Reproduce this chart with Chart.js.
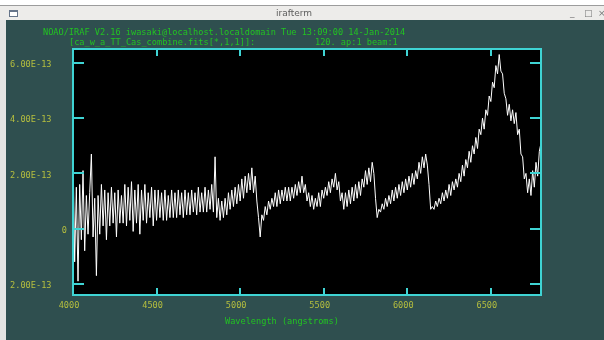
<!DOCTYPE html>
<html>
<head>
<meta charset="utf-8">
<title>irafterm</title>
<script src="https://cdn.jsdelivr.net/npm/chart.js@4.4.1/dist/chart.umd.min.js"></script>
<style>
  html, body { margin: 0; padding: 0; background: #fff; }
  #win { position: relative; width: 604px; height: 340px; overflow: hidden; background: #2f4f4f; }
  #plot { position: absolute; left: 0; top: 0; }
  .strip { position: absolute; left: 0; top: 0; width: 604px; height: 5px; background: #fff; }
  .side { position: absolute; left: 0; top: 5px; width: 6px; height: 335px; background: #e4e4e2; }
  .bar { position: absolute; left: 0; top: 5px; width: 604px; height: 15px; background: #edecea;
         border-top: 1px solid #9c9c9c; box-sizing: border-box; font: 9px "DejaVu Sans", sans-serif; color: #5c5c5c; }
  .bar .name { position: absolute; left: 254px; width: 80px; top: 1px; text-align: center; line-height: 12px; }
  .bar .icon { position: absolute; left: 9px; top: 4px; width: 7px; height: 4px; border: 1px solid #66758a; border-top-width: 2px; background: #fff; }
  .bar .btn { position: absolute; top: 1px; line-height: 12px; color: #777; }
  .txt { position: absolute; font: 8.6px "DejaVu Sans Mono", monospace; line-height: 10px; white-space: pre; color: #22c322; }
</style>
</head>
<body>
<div id="win">
  <canvas id="plot" width="604" height="340"></canvas>
  <div class="strip"></div>
  <div class="side"></div>
  <div class="bar">
    <div class="icon"></div>
    <div class="name">irafterm</div>
    <span class="btn" style="left:570px">_</span>
    <span class="btn" style="left:584px">&#9633;</span>
    <span class="btn" style="left:598px">&#215;</span>
  </div>
  <div class="txt" style="left:43px; top:27px">NOAO/IRAF V2.16 iwasaki@localhost.localdomain Tue 13:09:00 14-Jan-2014</div>
  <div class="txt" style="left:69px; top:37px">[ca_w_a_TT_Cas_combine.fits[*,1,1]]:</div>
  <div class="txt" style="left:315px; top:37px">120. ap:1 beam:1</div>
  <div class="txt" style="left:225px; top:316px">Wavelength (angstroms)</div>
</div>
<script>
// spectrum sampling: first wavelength and step, in angstroms
const waveStart = 4000;
const waveStep = 10;

// flux in units of 1E-13, one value per 10 A from 4000 to 6800
const flux = [
    2.8, -1.2, 1.5, -1.9, 1.6, -0.4, 2.1, -0.8, 1.2, -0.2,
    1.3, 2.7, -0.3, 1.1, -1.7, 1.2, -0.2, 1.6, 0.1, 1.4,
    -0.4, 1.3, 0.1, 1.5, 0.2, 1.3, -0.3, 1.4, 0.2, 1.2,
    0.2, 1.6, 0.1, 1.5, 0.3, 1.7, -0.1, 1.4, 0.2, 1.6,
    -0.2, 1.4, 0.3, 1.6, 0.2, 1.3, 0.4, 1.5, 0.1, 1.4,
    0.3, 1.4, 0.4, 1.3, 0.3, 1.4, 0.3, 1.2, 0.4, 1.4,
    0.4, 1.3, 0.4, 1.4, 0.5, 1.3, 0.4, 1.4, 0.5, 1.3,
    0.5, 1.4, 0.6, 1.3, 0.5, 1.5, 0.6, 1.3, 0.6, 1.5,
    0.6, 1.4, 0.7, 1.6, 0.6, 2.6, 0.4, 1.1, 0.3, 1.0,
    0.4, 1.1, 0.5, 1.3, 0.7, 1.4, 0.8, 1.5, 0.9, 1.6,
    1.0, 1.8, 1.1, 1.9, 1.3, 2.0, 1.4, 2.2, 1.3, 1.9,
    1.0, 0.4, -0.3, 0.5, 0.3, 0.8, 0.5, 1.0, 0.7, 1.1,
    0.8, 1.3, 0.8, 1.4, 0.9, 1.4, 1.0, 1.5, 1.0, 1.5,
    1.0, 1.5, 1.1, 1.6, 1.2, 1.7, 1.3, 1.9, 1.3, 1.6,
    1.0, 1.3, 0.8, 1.2, 0.7, 1.1, 0.8, 1.3, 0.8, 1.4,
    1.1, 1.5, 1.2, 1.7, 1.3, 1.8, 1.5, 2.0, 1.4, 1.7,
    1.0, 1.3, 0.7, 1.3, 0.8, 1.4, 0.9, 1.5, 1.0, 1.6,
    1.1, 1.7, 1.2, 1.8, 1.5, 2.1, 1.6, 2.2, 1.7, 2.4,
    2.0, 1.1, 0.4, 0.7, 0.6, 0.9, 0.7, 1.1, 0.8, 1.2,
    0.9, 1.4, 1.0, 1.5, 1.1, 1.6, 1.2, 1.7, 1.3, 1.8,
    1.4, 1.9, 1.5, 2.0, 1.6, 2.1, 1.8, 2.4, 2.0, 2.6,
    2.2, 2.7, 2.3, 1.6, 0.7, 0.8, 0.7, 1.0, 0.8, 1.1,
    0.9, 1.3, 1.0, 1.4, 1.1, 1.6, 1.2, 1.7, 1.4, 1.8,
    1.5, 2.0, 1.7, 2.3, 1.9, 2.5, 2.2, 2.8, 2.4, 3.0,
    2.7, 3.3, 2.9, 3.6, 3.4, 4.0, 3.6, 4.3, 4.1, 4.8,
    4.6, 5.3, 5.1, 5.9, 5.6, 6.3, 5.7, 5.6, 4.9, 4.7,
    4.1, 4.5, 3.9, 4.3, 3.8, 4.2, 3.4, 3.6, 2.7, 2.6,
    1.8, 2.0, 1.3, 1.8, 1.2, 2.1, 1.5, 2.4, 1.9, 2.8,
    3.1
];

const xTickValues = [4000, 4500, 5000, 5500, 6000, 6500];
const xTickLabels = ['4000', '4500', '5000', '5500', '6000', '6500'];
const yTickValues = [-2, 0, 2, 4, 6];
const yTickLabels = ['2.00E-13', '0', '2.00E-13', '4.00E-13', '6.00E-13'];

const points = flux.map((f, i) => ({ x: waveStart + i * waveStep, y: f }));

// black viewport, cyan frame and inward ticks like the IRAF gterm
const irafBox = {
    id: 'irafBox',
    beforeDraw(chart) {
        const { ctx, chartArea: a } = chart;
        ctx.save();
        ctx.fillStyle = '#2f4f4f';
        ctx.fillRect(0, 0, chart.width, chart.height);
        ctx.fillStyle = '#000';
        ctx.fillRect(a.left, a.top, a.right - a.left, a.bottom - a.top);
        ctx.restore();
    },
    afterDraw(chart) {
        const { ctx, chartArea: a, scales } = chart;
        ctx.save();
        ctx.strokeStyle = '#3fd4d4';
        ctx.lineWidth = 2;
        ctx.strokeRect(a.left, a.top, a.right - a.left, a.bottom - a.top);
        ctx.beginPath();
        xTickValues.forEach(v => {
            const px = Math.round(scales.x.getPixelForValue(v));
            ctx.moveTo(px, a.bottom); ctx.lineTo(px, a.bottom - 7);
            ctx.moveTo(px, a.top); ctx.lineTo(px, a.top + 7);
        });
        yTickValues.forEach(v => {
            const py = Math.round(scales.y.getPixelForValue(v));
            ctx.moveTo(a.left, py); ctx.lineTo(a.left + 11, py);
            ctx.moveTo(a.right, py); ctx.lineTo(a.right - 11, py);
        });
        ctx.stroke();
        ctx.restore();
    }
};

const tickFont = { family: '"DejaVu Sans Mono", monospace', size: 8.6 };

new Chart(document.getElementById('plot'), {
    type: 'line',
    data: {
        datasets: [{
            data: points,
            borderColor: '#ffffff',
            borderWidth: 1,
            pointRadius: 0,
            tension: 0,
            fill: false
        }]
    },
    options: {
        responsive: false,
        animation: false,
        devicePixelRatio: 1,
        layout: { padding: { top: 49, right: 63, left: 0, bottom: 0 } },
        plugins: { legend: { display: false }, tooltip: { enabled: false } },
        scales: {
            x: {
                type: 'linear',
                min: 4000,
                max: 6800,
                grid: { display: false, drawTicks: false },
                border: { display: false },
                afterFit: s => { s.height = 45; },
                afterBuildTicks: s => { s.ticks = xTickValues.map(v => ({ value: v })); },
                ticks: {
                    autoSkip: false,
                    maxRotation: 0,
                    padding: 6,
                    labelOffset: -4,
                    color: '#b6bf3e',
                    font: tickFont,
                    callback: (v, i) => xTickLabels[i]
                }
            },
            y: {
                min: -2.4,
                max: 6.5,
                grid: { display: false, drawTicks: false },
                border: { display: false },
                afterFit: s => { s.width = 73; },
                afterBuildTicks: s => { s.ticks = yTickValues.map(v => ({ value: v })); },
                ticks: {
                    autoSkip: false,
                    padding: 6,
                    labelOffset: 2,
                    color: '#b6bf3e',
                    font: tickFont,
                    // IRAF pads the exponent labels, so they sit left of the "0"
                    callback: (v, i) => yTickLabels[i].length > 1 ? yTickLabels[i] + '   ' : yTickLabels[i]
                }
            }
        }
    },
    plugins: [irafBox]
});
</script>
</body>
</html>
